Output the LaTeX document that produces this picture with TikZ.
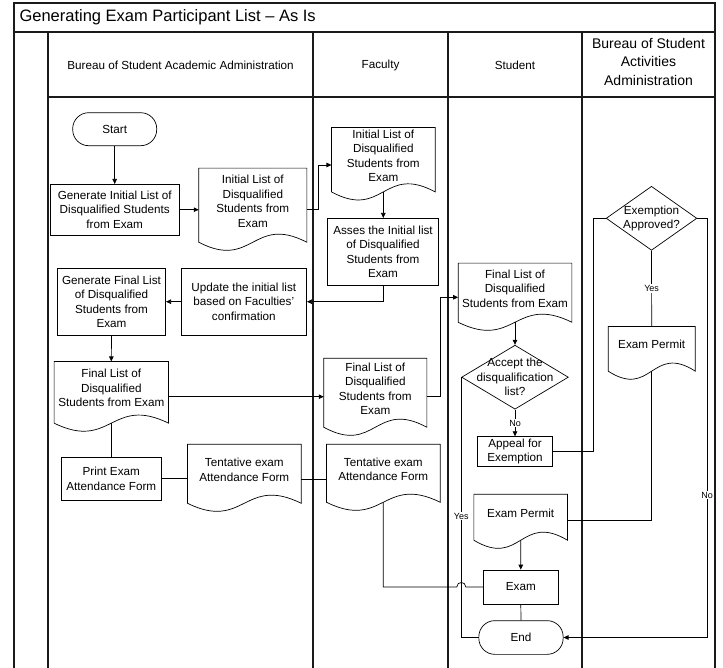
\documentclass[tikz,border=0pt]{standalone}
\usepackage{fontspec}
\setmainfont{Liberation Sans}
\usepackage{tikz}
\usetikzlibrary{arrows.meta,calc,shapes.geometric}
\definecolor{ink}{HTML}{000000}
\definecolor{lane}{HTML}{1A1A1A}
\tikzset{
  lanerule/.style={line width=1.1pt, draw=lane},
  line/.style={line width=0.7pt, draw=ink},
  arr/.style={line, -{Triangle[length=5pt,width=4.5pt]}},
  txt/.style={font=\fontsize{11.7}{14.5}\selectfont, align=center, inner sep=0pt},
  proc/.style={txt, draw=ink, line width=0.7pt, fill=white},
  term/.style={proc, rounded corners=16pt},
  doc/.style={txt},
  decision/.style={diamond, draw=ink, line width=0.7pt, inner sep=0pt},
  lbl/.style={font=\fontsize{9}{10}\selectfont, fill=white, inner sep=1pt},
  hdr/.style={font=\fontsize{11.7}{14}\selectfont, align=center},
  ttl/.style={font=\fontsize{16.5}{18}\selectfont, anchor=west}
}
\newcommand{\DocNode}[5]{% name, centre, width, height, text
  \node[doc, minimum width=#3pt, minimum height=#4pt] (#1) at (#2) {#5};
  \coordinate (#1-b) at ($(#1.south)+(0,8)$);
  \draw[line] (#1.north west) -- ($(#1.south west)+(0,8)$)
    .. controls ($(#1.south)+(0,36)$) and ($(#1.south)+(0,-20)$) .. ($(#1.south east)+(0,8)$)
    -- (#1.north east) -- cycle;
}

\begin{document}
\begin{tikzpicture}[x=1pt,y=-1pt]
  \useasboundingbox (0,0) rectangle (723,668);
  % pool and lanes
  \draw[lanerule] (14,668) -- (14,3) -- (715,3) -- (715,668);
  \draw[lanerule] (14,32) -- (715,32);
  \draw[lanerule] (48,97) -- (715,97);
  \foreach \x in {48,313,448,582} \draw[lanerule] (\x,32) -- (\x,668);
  \node[ttl] (title) at (16,17.5) {Generating Exam Participant List -- As Is};
  \node[hdr] (hBAA) at (180.5,65) {Bureau of Student Academic Administration};
  \node[hdr] (hFac) at (380.5,65) {Faculty};
  \node[hdr] (hStu) at (515,65) {Student};
  \node[hdr, font=\fontsize{14}{18.5}\selectfont] (hBSAA) at (648.5,61.5) {Bureau of Student\\Activities\\Administration};

  % shapes
  \node[term, minimum width=84pt, minimum height=33pt] (start) at (114.7,129.2) {Start};
  \node[proc, minimum width=129.3pt, minimum height=50.7pt] (genInit) at (114.7,209.7) {Generate Initial List of\\Disqualified Students\\from Exam};
  \DocNode{initBAA}{252.8,201.2}{107.7}{65.7}{Initial List of\\Disqualified\\Students from\\Exam}
  \DocNode{initFac}{383.3,155.7}{103.3}{56}{Initial List of\\Disqualified\\Students from\\Exam}
  \node[proc, minimum width=110.7pt, minimum height=66.7pt] (asses) at (383,251.7) {Asses the Initial list\\of Disqualified\\Students from\\Exam};
  \node[proc, minimum width=125.7pt, minimum height=66.7pt] (update) at (243.8,301.7) {Update the initial list\\based on Faculties'\\confirmation};
  \node[proc, minimum width=108.3pt, minimum height=66.7pt] (genFinal) at (111.5,301.7) {Generate Final List\\of Disqualified\\Students from\\Exam};
  \DocNode{finBAA}{111.3,388.3}{114}{53.3}{Final List of\\Disqualified\\Students from Exam}
  \DocNode{finFac}{375.3,388.7}{102.7}{60.7}{Final List of\\Disqualified\\Students from\\Exam}
  \DocNode{finStu}{515,288.7}{113.3}{50.7}{Final List of\\Disqualified\\Students from Exam}
  \node[decision, minimum width=106.7pt, minimum height=64pt,
    label={[txt]center:{Accept the\\disqualification\\list?}}] (accept) at (515,377.2) {};
  \node[proc, minimum width=75pt, minimum height=30pt] (appeal) at (515,451.7) {Appeal for\\Exemption};
  \node[decision, minimum width=90.7pt, minimum height=64pt,
    label={[txt]center:{Exemption\\Approved?}}] (exempt) at (651.5,218.3) {};
  \DocNode{permBSAA}{651.7,344.8}{86.7}{36.3}{Exam Permit}
  \node[proc, minimum width=100.7pt, minimum height=42.3pt] (print) at (111.3,478.8) {Print Exam\\Attendance Form};
  \DocNode{tentBAA}{244.3,469.7}{113.3}{50.7}{Tentative exam\\Attendance Form}
  \DocNode{tentFac}{383.3,469.2}{113.3}{49.7}{Tentative exam\\Attendance Form}
  \DocNode{permStu}{520.7,513.2}{93.3}{37.7}{Exam Permit}
  \node[proc, minimum width=75pt, minimum height=34pt] (exam) at (520.8,587) {Exam};
  \node[term, minimum width=84.3pt, minimum height=33.7pt] (endN) at (521,637.5) {End};

  % connectors
  \coordinate (fb1) at ($(finBAA.east)+(0,8.4)$);
  \coordinate (ff1) at ($(finFac.east)+(0,7.5)$);
  \coordinate (tb1) at ($(tentBAA.east)+(0,9.3)$);
  \coordinate (ps1) at ($(permStu.east)+(0,6.8)$);
  \coordinate (hopL) at ($(accept.west |- exam.west)+(-4.5,0)$);
  \coordinate (hopR) at ($(accept.west |- exam.west)+(4.5,0)$);
  \draw[arr] (start.south) -- (genInit.north);
  \draw[arr] (genInit.east) -- (genInit.east -| initBAA.west);
  \draw[arr] (initBAA.east |- genInit.east) -- ++(11.6,0) |- ($(initFac.west)+(0,9.3)$);
  \draw[arr] (initFac-b) -- (initFac-b |- asses.north);
  \draw[arr] (asses.south) |- (update.east);
  \draw[arr] (update.west) -- (genFinal.east);
  \draw[arr] (genFinal.south) -- (finBAA.north);
  \draw[arr] (fb1) -- (fb1 -| finFac.west);
  \draw[arr] (ff1) -- ++(13.3,0) |- ($(finStu.west)+(0,8.6)$);
  \draw[arr] (finStu-b) -- (accept.north);
  \draw[arr] (accept.south) -- node[lbl]{No} (appeal.north);
  \draw[line] (appeal.east) -- ++(40.8,0) |- (exempt.west);
  \draw[line] (exempt.south) -- node[lbl]{Yes} (permBSAA.north);
  \draw[arr] (exempt.east) -- ++(10,0) |- node[lbl,pos=0.33]{No} (endN.east);
  \draw[line] (permBSAA-b) |- (ps1);
  \draw[arr] (permStu-b) -- (exam.north);
  \draw[line] (exam.south) -- (endN.north);
  \draw[line] (accept.west) |- node[lbl,pos=0.267]{Yes} (endN.west);
  \draw[line] (finBAA-b) -- (print.north);
  \draw[line] (print.east) -- (print.east -| tentBAA.west);
  \draw[line] (tb1) -- (tb1 -| tentFac.west);
  % hop over the Yes line
  \draw[line] (tentFac-b) |- (hopL) .. controls ($(hopL)+(0,-6)$) and ($(hopR)+(0,-6)$) .. (hopR) -- (exam.west);
\end{tikzpicture}
\end{document}
